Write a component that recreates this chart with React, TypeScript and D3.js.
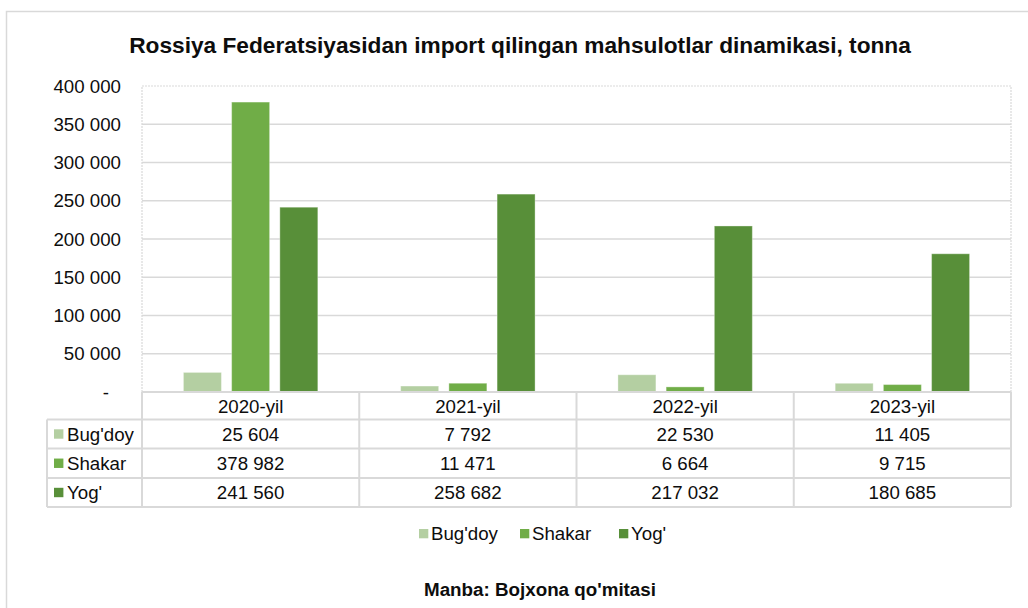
import React from "react";
import * as d3 from "d3";

const years = ["2020-yil", "2021-yil", "2022-yil", "2023-yil"];
const seriesNames = ["Bug'doy", "Shakar", "Yog'"];
const bugdoy = [25604, 7792, 22530, 11405];
const shakar = [378982, 11471, 6664, 9715];
const yog = [241560, 258682, 217032, 180685];
const yTicks = [0, 50000, 100000, 150000, 200000, 250000, 300000, 350000, 400000];
const colors = ["#B4CFA2", "#70AD47", "#588F39"];

const W = 1028;
const H = 608;
const FONT = "'Liberation Sans', Arial, sans-serif";
const FS = 18.7;

const fmt = (v: number) => (v === 0 ? "-" : d3.format(",")(v).replace(/,/g, " "));

export default function App() {
  const series = [bugdoy, shakar, yog];
  const x0 = 142, x1 = 1011, yTop = 86, yZero = 392;
  const x = d3.scaleBand<string>().domain(years).range([x0, x1]).paddingInner(0).paddingOuter(0);
  const y = d3.scaleLinear().domain([0, 400000]).range([yZero, yTop]);
  const bw = x.bandwidth();
  const inner = d3
    .scaleBand<string>()
    .domain(seriesNames)
    .range([bw / 2 - 67.2, bw / 2 + 67.2])
    .paddingInner(0.212)
    .paddingOuter(0);

  const rows = [392, 419.5, 448.5, 478, 507];
  const colEdges = [x0, ...years.map((yr) => (x(yr) as number) + bw)];
  const tableLeft = 47;
  const grid = "#D9D9D9";
  const legendX = [419, 520, 619];

  return (
    <svg width={W} height={H} style={{ position: "absolute", left: 0, top: 0, background: "#fff" }}>
      <rect x={0} y={0} width={W} height={H} fill="#fff" />
      <rect x={6.5} y={11.5} width={W + 20} height={H + 20} fill="#fff" stroke={grid} strokeWidth={1.5} />
      <text x={520} y={52.5} textAnchor="middle" fontFamily={FONT} fontWeight="bold" fontSize={22.7} fill="#0D0D0D">
        Rossiya Federatsiyasidan import qilingan mahsulotlar dinamikasi, tonna
      </text>

      {/* gridlines */}
      {yTicks.slice(1, -1).map((t) => (
        <line key={t} x1={x0} x2={x1} y1={y(t)} y2={y(t)} stroke={grid} strokeWidth={1.5} />
      ))}
      {/* plot area dotted border */}
      <path
        d={`M${x0},${yZero} V${yTop} H${x1} V${yZero}`}
        fill="none"
        stroke={grid}
        strokeWidth={1.2}
        strokeDasharray="2,1"
      />

      {/* y tick labels */}
      {yTicks.map((t) => (
        <text
          key={t}
          x={t === 0 ? 109 : 121}
          y={y(t)}
          dy="0.35em"
          textAnchor="end"
          fontFamily={FONT}
          fontSize={FS}
          fill="#0D0D0D"
        >
          {fmt(t)}
        </text>
      ))}

      {/* bars */}
      {years.map((yr, i) => (
        <g key={yr} transform={`translate(${x(yr)},0)`}>
          {seriesNames.map((s, j) => (
            <rect
              key={s}
              x={inner(s)}
              y={y(series[j][i])}
              width={inner.bandwidth()}
              height={yZero - y(series[j][i])}
              fill={colors[j]}
              stroke="#ffffff"
              strokeOpacity={0.35}
              strokeWidth={1}
            />
          ))}
        </g>
      ))}

      {/* data table */}
      <line x1={x0} x2={x1} y1={rows[0]} y2={rows[0]} stroke={grid} strokeWidth={2} />
      {rows.slice(1).map((r) => (
        <line key={r} x1={tableLeft} x2={x1} y1={r} y2={r} stroke={grid} strokeWidth={2} />
      ))}
      <line x1={tableLeft} x2={tableLeft} y1={rows[1]} y2={rows[4]} stroke={grid} strokeWidth={2} />
      {colEdges.map((cx) => (
        <line key={cx} x1={cx} x2={cx} y1={rows[0]} y2={rows[4]} stroke={grid} strokeWidth={2} />
      ))}
      {years.map((yr) => (
        <text
          key={yr}
          x={(x(yr) as number) + bw / 2}
          y={(rows[0] + rows[1]) / 2 + 1}
          dy="0.35em"
          textAnchor="middle"
          fontFamily={FONT}
          fontSize={FS}
          fill="#0D0D0D"
        >
          {yr}
        </text>
      ))}
      {seriesNames.map((s, j) => {
        const cy = (rows[j + 1] + rows[j + 2]) / 2;
        return (
          <g key={s}>
            <rect x={54} y={cy - 4.7} width={9.4} height={9.4} fill={colors[j]} />
            <text x={67} y={cy} dy="0.35em" fontFamily={FONT} fontSize={FS} fill="#0D0D0D">
              {s}
            </text>
            {years.map((yr, i) => (
              <text
                key={yr}
                x={(x(yr) as number) + bw / 2}
                y={cy}
                dy="0.35em"
                textAnchor="middle"
                fontFamily={FONT}
                fontSize={FS}
                fill="#0D0D0D"
              >
                {fmt(series[j][i])}
              </text>
            ))}
          </g>
        );
      })}

      {/* bottom legend */}
      {seriesNames.map((s, j) => {
        const lx = legendX[j];
        return (
          <g key={s}>
            <rect x={lx} y={529} width={9.3} height={9.3} fill={colors[j]} />
            <text x={lx + 12} y={533.5} dy="0.35em" fontFamily={FONT} fontSize={FS} fill="#0D0D0D">
              {s}
            </text>
          </g>
        );
      })}

      <text x={540} y={589.5} dy="0.35em" textAnchor="middle" fontFamily={FONT} fontWeight="bold" fontSize={18.8} fill="#0D0D0D">
        Manba: Bojxona qo'mitasi
      </text>
    </svg>
  );
}
